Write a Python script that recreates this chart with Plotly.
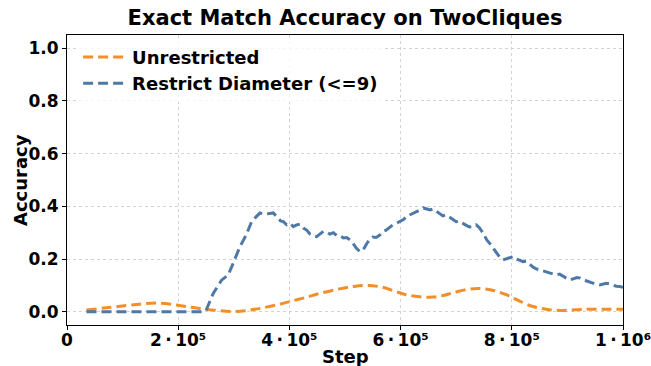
import plotly.graph_objects as go

# Training steps (in units of 1e6) and exact-match accuracy for each run
unrestricted_steps = [0.035, 0.07, 0.107, 0.135, 0.161, 0.19, 0.215, 0.239, 0.27, 0.299,
                      0.325, 0.347, 0.375, 0.401, 0.43, 0.455, 0.49, 0.515, 0.54, 0.568,
                      0.59, 0.611, 0.635, 0.658, 0.677, 0.694, 0.72, 0.743, 0.765, 0.791,
                      0.815, 0.838, 0.862, 0.887, 0.915, 0.94, 0.97, 1.0]
unrestricted_acc = [0.007, 0.015, 0.024, 0.03, 0.033, 0.028, 0.02, 0.013, 0.005, 0.001,
                    0.005, 0.013, 0.025, 0.039, 0.055, 0.07, 0.087, 0.096, 0.1, 0.093,
                    0.078, 0.064, 0.057, 0.056, 0.062, 0.072, 0.085, 0.088, 0.082, 0.064,
                    0.04, 0.02, 0.01, 0.005, 0.008, 0.01, 0.01, 0.01]

restricted_steps = [0.035, 0.10, 0.15, 0.20, 0.24, 0.25, 0.263, 0.278, 0.29, 0.30,
                    0.311, 0.322, 0.332, 0.34, 0.347, 0.355, 0.363, 0.371, 0.378, 0.384,
                    0.389, 0.395, 0.401, 0.407, 0.413, 0.419, 0.425, 0.431, 0.437, 0.443,
                    0.449, 0.455, 0.461, 0.467, 0.473, 0.479, 0.485, 0.491, 0.497, 0.503,
                    0.509, 0.515, 0.521, 0.527, 0.533, 0.539, 0.545, 0.55, 0.556, 0.562,
                    0.568, 0.574, 0.58, 0.586, 0.592, 0.599, 0.605, 0.611, 0.617, 0.623,
                    0.629, 0.635, 0.641, 0.647, 0.653, 0.659, 0.665, 0.671, 0.676, 0.682,
                    0.688, 0.694, 0.70, 0.706, 0.712, 0.718, 0.724, 0.73, 0.736, 0.742,
                    0.748, 0.755, 0.761, 0.767, 0.773, 0.779, 0.784, 0.79, 0.796, 0.802,
                    0.808, 0.814, 0.82, 0.826, 0.832, 0.838, 0.844, 0.85, 0.856, 0.862,
                    0.868, 0.874, 0.88, 0.886, 0.892, 0.898, 0.905, 0.911, 0.917, 0.923,
                    0.929, 0.935, 0.941, 0.946, 0.952, 0.958, 0.964, 0.97, 0.976, 0.982,
                    0.988, 0.994, 1.0]
restricted_acc = [0.0, 0.0, 0.0, 0.0, 0.0, 0.005, 0.07, 0.12, 0.14, 0.19,
                  0.247, 0.29, 0.342, 0.36, 0.375, 0.37, 0.372, 0.375, 0.36, 0.345,
                  0.342, 0.33, 0.336, 0.323, 0.33, 0.332, 0.318, 0.31, 0.295, 0.288,
                  0.285, 0.295, 0.305, 0.302, 0.295, 0.3, 0.29, 0.29, 0.28, 0.282,
                  0.273, 0.258, 0.24, 0.228, 0.236, 0.258, 0.278, 0.284, 0.282, 0.29,
                  0.305, 0.31, 0.32, 0.33, 0.335, 0.342, 0.35, 0.362, 0.368, 0.372,
                  0.38, 0.386, 0.394, 0.39, 0.386, 0.39, 0.38, 0.372, 0.364, 0.368,
                  0.36, 0.35, 0.342, 0.344, 0.335, 0.328, 0.322, 0.323, 0.33, 0.318,
                  0.3, 0.273, 0.258, 0.24, 0.225, 0.205, 0.197, 0.2, 0.205, 0.21,
                  0.2, 0.196, 0.19, 0.192, 0.18, 0.17, 0.163, 0.159, 0.155, 0.152,
                  0.148, 0.145, 0.14, 0.143, 0.135, 0.128, 0.121, 0.126, 0.13, 0.128,
                  0.12, 0.117, 0.112, 0.11, 0.104, 0.102, 0.106, 0.108, 0.106, 0.1,
                  0.097, 0.096, 0.093]

x_tickvals = [0, 2e5, 4e5, 6e5, 8e5, 1e6]
x_ticktext = ["0", "2\u2009·\u200910⁵", "4\u2009·\u200910⁵", "6\u2009·\u200910⁵",
              "8\u2009·\u200910⁵", "1\u2009·\u200910⁶"]
y_tickvals = [0.0, 0.2, 0.4, 0.6, 0.8, 1.0]
y_ticktext = ["0.0", "0.2", "0.4", "0.6", "0.8", "1.0"]

ORANGE = "#f28e2b"
BLUE = "#4e79a7"
FONT = "DejaVu Sans"

fig = go.Figure()
fig.add_trace(go.Scatter(
    x=[s * 1e6 for s in unrestricted_steps], y=unrestricted_acc,
    mode="lines", name="Unrestricted", line_shape="spline",
    line=dict(color=ORANGE, width=3, dash="10px,5px"),
))
fig.add_trace(go.Scatter(
    x=[s * 1e6 for s in restricted_steps], y=restricted_acc,
    mode="lines", name="Restrict Diameter (<=9)",
    line=dict(color=BLUE, width=3, dash="10px,5px"),
))

axis_common = dict(
    showline=True, linecolor="black", linewidth=1.2, mirror=True,
    ticks="outside", ticklen=4, tickcolor="black", tickwidth=1,
    showgrid=True, gridcolor="#d3d3d3", griddash="dot", gridwidth=1,
    zeroline=False, automargin=False, ticklabeloverflow="allow",
    tickfont=dict(family=FONT, size=17, color="black", weight="bold"),
)

label_font = dict(family=FONT, size=18, color="black", weight="bold")

fig.update_layout(
    width=651, height=366,
    margin=dict(l=67, r=28, t=35, b=41),
    paper_bgcolor="white", plot_bgcolor="white",
    title=dict(text="Exact Match Accuracy on TwoCliques", x=0.5, xanchor="center",
               xref="paper", yref="container", y=0.951, yanchor="middle",
               font=dict(family=FONT, size=21, color="black", weight="bold")),
    xaxis=dict(range=[0, 1e6], tickvals=x_tickvals, ticktext=x_ticktext,
               ticklabelstandoff=-5, **axis_common),
    yaxis=dict(range=[-0.05, 1.05], tickvals=y_tickvals, ticktext=y_ticktext, **axis_common),
    legend=dict(x=0.02, y=0.987, xanchor="left", yanchor="top",
                bgcolor="rgba(255,255,255,0.8)", borderwidth=0,
                font=dict(family=FONT, size=18, color="black", weight="bold"),
                itemwidth=44, tracegroupgap=2),
    showlegend=True,
    annotations=[
        dict(text="Step", xref="paper", yref="paper", x=0.5, y=-0.11,
             xanchor="center", yanchor="middle", showarrow=False, font=label_font),
        dict(text="Accuracy", xref="paper", yref="paper", x=-0.0845, y=0.5,
             xanchor="center", yanchor="middle", textangle=-90, showarrow=False,
             font=label_font),
    ],
)

fig.write_html("out.html")
